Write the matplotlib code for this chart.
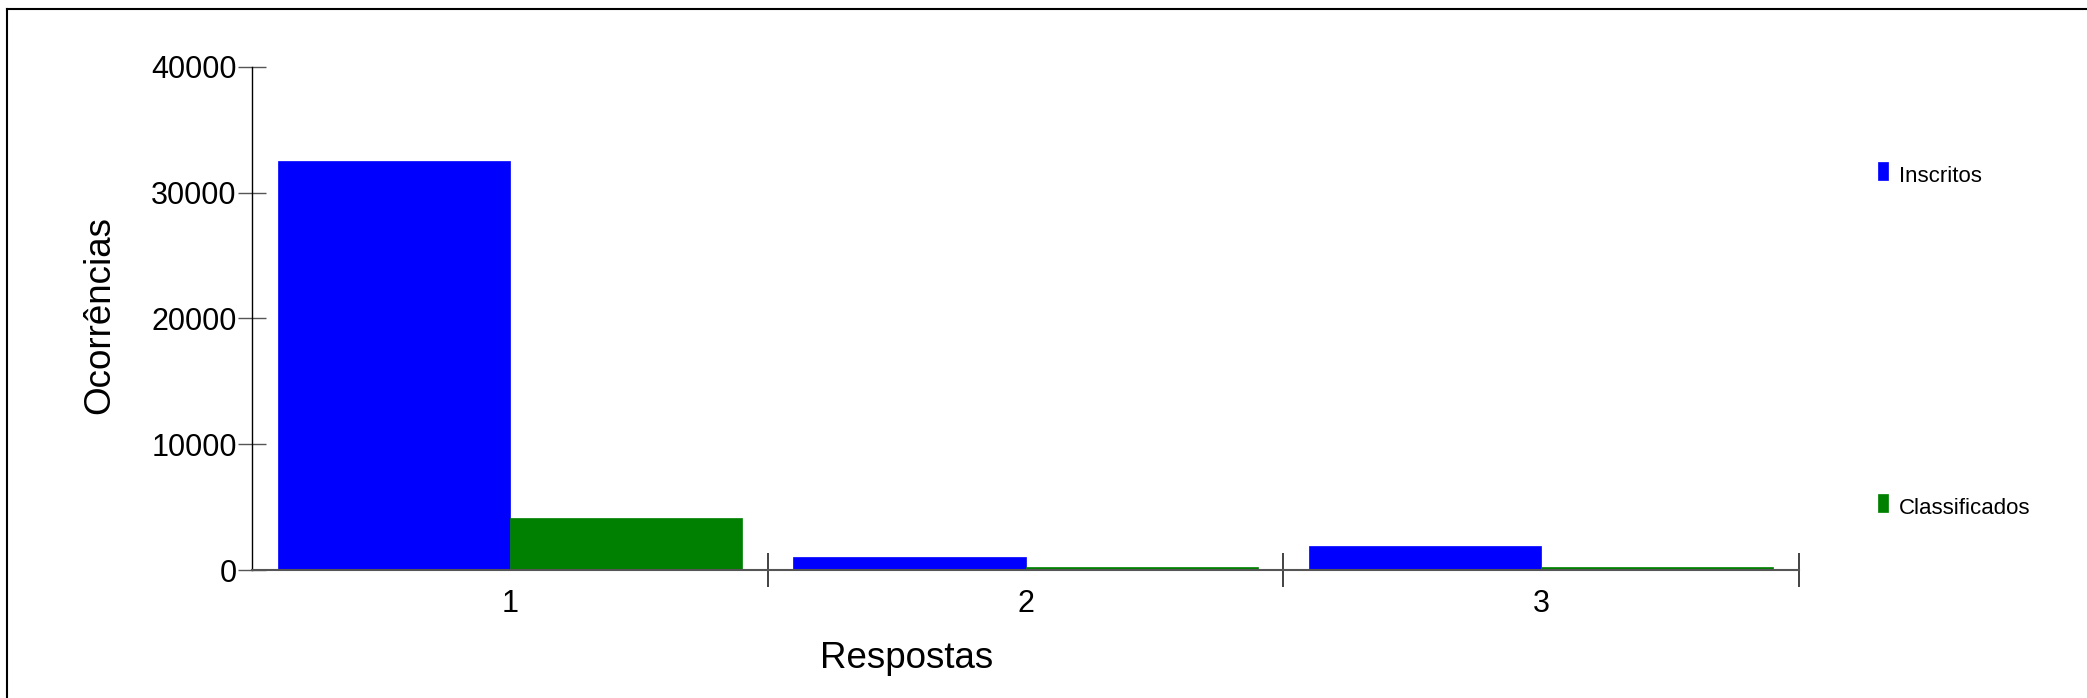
import matplotlib
matplotlib.use("Agg")
import matplotlib.pyplot as plt
from matplotlib.patches import Rectangle
from matplotlib.lines import Line2D

categories = ["1", "2", "3"]
inscritos = [32500, 1060, 1880]
classificados = [4150, 230, 240]
series_names = ["Inscritos", "Classificados"]
series_colors = ["#0000FF", "#008000"]
yticks = [0, 10000, 20000, 30000, 40000]

plt.rcParams['font.family'] = ['Liberation Sans', 'DejaVu Sans']

W, H = 2087, 698
fig = plt.figure(figsize=(W / 100, H / 100), dpi=100)
ax = fig.add_axes([252 / W, 1 - 570 / H, (1799 - 252) / W, (570 - 66.7) / H])

x = list(range(1, len(categories) + 1))
bw = 0.45
ax.bar([v - bw / 2 for v in x], inscritos, width=bw, color=series_colors[0],
       edgecolor=series_colors[0], linewidth=0.5)
ax.bar([v + bw / 2 for v in x], classificados, width=bw, color=series_colors[1],
       edgecolor=series_colors[1], linewidth=0.5)

ax.set_xlim(0.5, len(categories) + 0.5)
ax.set_ylim(0, 40000)

for s in ['top', 'right']:
    ax.spines[s].set_visible(False)
ax.spines['left'].set_color('black')
ax.spines['bottom'].set_color('#555555')
ax.spines['left'].set_linewidth(1.0)
ax.spines['bottom'].set_linewidth(1.5)

ax.set_yticks(yticks)
ax.set_yticklabels([str(v) for v in yticks])
ax.tick_params(axis='y', direction='inout', length=20, width=1, color='#555555',
               labelsize=22, pad=1)

ax.set_xticks([v + 0.5 for v in x])
ax.set_xticklabels([])
ax.set_xticks(x, minor=True)
ax.set_xticklabels(categories, minor=True)
ax.tick_params(axis='x', which='major', direction='inout', length=24, width=1.2,
               color='#222222')
ax.tick_params(axis='x', which='minor', length=0, labelsize=22, pad=14)

fig.text(907 / W, 1 - 659 / H, "Respostas", fontsize=26.5, ha='center', va='center')
fig.text(100 / W, 1 - 315 / H, "Ocorrências", fontsize=26.5, ha='center', va='center',
         rotation=90)

# legend
leg_y = [171, 503]
for name, col, yy in zip(series_names, series_colors, leg_y):
    fig.patches.append(Rectangle((1877.7 / W, 1 - (yy + 9) / H), 10.6 / W, 18 / H,
                                 transform=fig.transFigure, facecolor=col,
                                 edgecolor=col, linewidth=0.5))
    fig.text(1899 / W, 1 - (yy + 6) / H, name, fontsize=16, ha='left', va='center')

# outer frame (left and top)
fig.add_artist(Line2D([7 / W, 7 / W], [0, 1 - 9 / H], transform=fig.transFigure,
                      color='black', linewidth=1.5))
fig.add_artist(Line2D([7 / W, 1], [1 - 9 / H, 1 - 9 / H], transform=fig.transFigure,
                      color='black', linewidth=1.5))

fig.savefig("out.png", dpi=100, facecolor='white')
